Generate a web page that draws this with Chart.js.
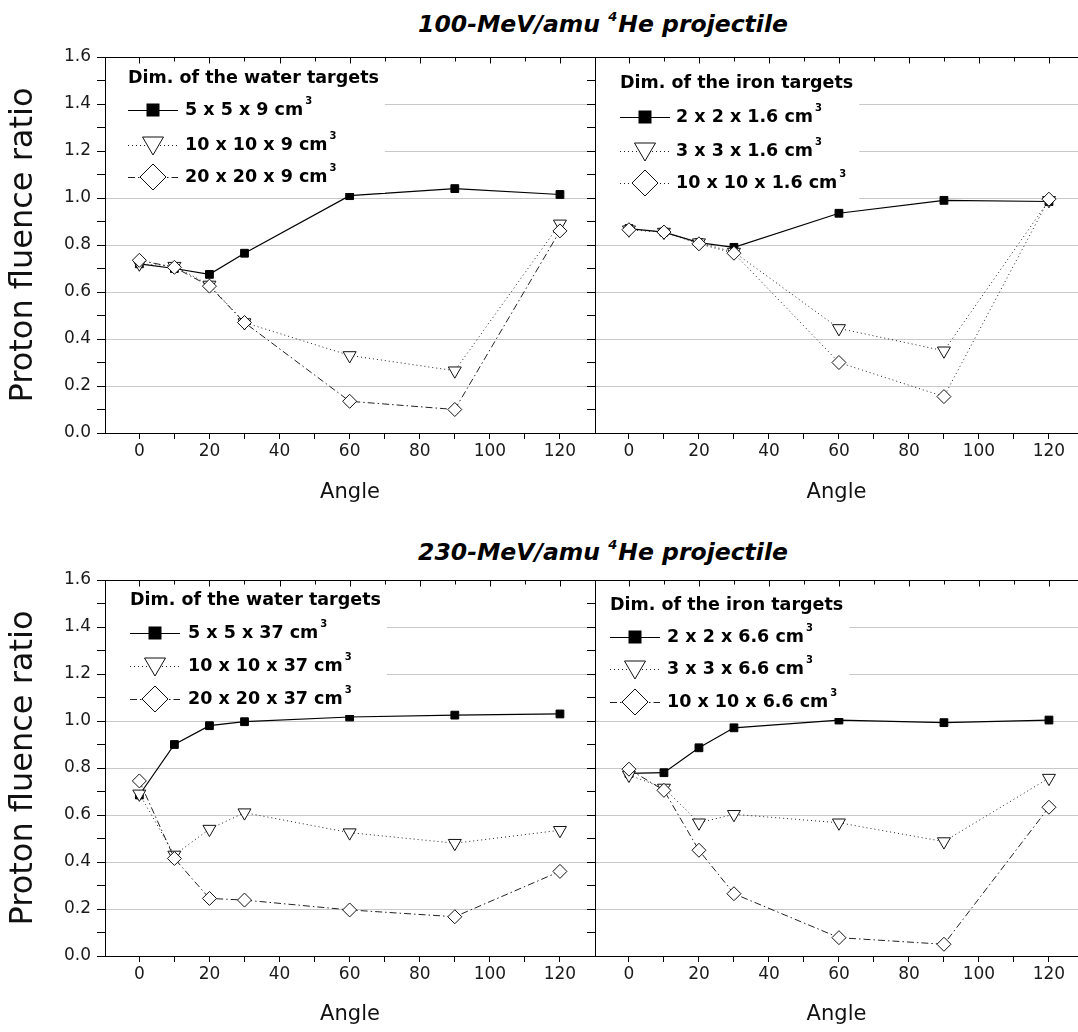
<!DOCTYPE html>
<html>
<head>
<meta charset="utf-8">
<title>Proton fluence ratio vs angle</title>
<script src="https://cdn.jsdelivr.net/npm/chart.js@4.4.1/dist/chart.umd.min.js"></script>
<style>
  body { margin: 0; background: #fff; }
  #wrap { position: relative; width: 1078px; height: 1032px; overflow: hidden; font-family: 'DejaVu Sans', sans-serif; }
  .row-title { position: absolute; left: 0; width: 1206px; text-align: center; font-weight: bold; font-style: italic;
               font-size: 23.5px; line-height: 28px; color: #000; white-space: nowrap; }
  .row-title .sup { font-size: 13px; position: relative; top: -11px; margin-right: 1px; }
  canvas { position: absolute; }
</style>
</head>
<body>
<div id="wrap">
  <div class="row-title" style="top:10px">100-MeV/amu <span class="sup">4</span>He projectile</div>
  <div class="row-title" style="top:538px">230-MeV/amu <span class="sup">4</span>He projectile</div>
  <canvas id="c1" width="596" height="470" style="left:0;top:40px;width:596px;height:470px"></canvas>
  <canvas id="c2" width="491" height="470" style="left:587px;top:40px;width:491px;height:470px"></canvas>
  <canvas id="c3" width="596" height="469" style="left:0;top:563px;width:596px;height:469px"></canvas>
  <canvas id="c4" width="491" height="469" style="left:587px;top:563px;width:491px;height:469px"></canvas>
</div>
<script>
const FONT = "'DejaVu Sans', sans-serif";

const ANGLES = [0, 10, 20, 30, 60, 90, 120];
const X_TICKS = [0, 10, 20, 30, 40, 50, 60, 70, 80, 90, 100, 110, 120];
const Y_TICKS = [0, 0.1, 0.2, 0.3, 0.4, 0.5, 0.6, 0.7, 0.8, 0.9, 1.0, 1.1, 1.2, 1.3, 1.4, 1.5, 1.6];

// 100 MeV/amu, water targets
const W100_5x5   = [0.72, 0.70, 0.675, 0.765, 1.01, 1.04, 1.015];
const W100_10x10 = [0.72, 0.71, 0.63, 0.47, 0.33, 0.265, 0.89];
const W100_20x20 = [0.735, 0.705, 0.625, 0.47, 0.135, 0.10, 0.86];
const W100_LABELS = ['5 x 5 x 9 cm', '10 x 10 x 9 cm', '20 x 20 x 9 cm'];

// 100 MeV/amu, iron targets
const FE100_2x2   = [0.87, 0.855, 0.81, 0.79, 0.935, 0.99, 0.985];
const FE100_3x3   = [0.865, 0.855, 0.81, 0.77, 0.445, 0.35, 0.99];
const FE100_10x10 = [0.865, 0.855, 0.805, 0.765, 0.30, 0.155, 0.995];
const FE100_LABELS = ['2 x 2 x 1.6 cm', '3 x 3 x 1.6 cm', '10 x 10 x 1.6 cm'];

// 230 MeV/amu, water targets
const W230_5x5   = [0.685, 0.90, 0.98, 0.997, 1.017, 1.025, 1.03];
const W230_10x10 = [0.69, 0.43, 0.54, 0.61, 0.525, 0.48, 0.535];
const W230_20x20 = [0.745, 0.415, 0.245, 0.238, 0.196, 0.167, 0.36];
const W230_LABELS = ['5 x 5 x 37 cm', '10 x 10 x 37 cm', '20 x 20 x 37 cm'];

// 230 MeV/amu, iron targets
const FE230_2x2   = [0.777, 0.78, 0.886, 0.971, 1.004, 0.993, 1.004];
const FE230_3x3   = [0.77, 0.715, 0.567, 0.603, 0.567, 0.487, 0.757];
const FE230_10x10 = [0.795, 0.705, 0.45, 0.265, 0.078, 0.05, 0.633];
const FE230_LABELS = ['2 x 2 x 6.6 cm', '3 x 3 x 6.6 cm', '10 x 10 x 6.6 cm'];

const DOT = [1, 3];
const DASHDOT = [7, 3, 1.5, 3];

function series(vals, kind, dash) {
    const pts = ANGLES.map((a, i) => ({ x: a, y: vals[i] }));
    const base = { data: pts, tension: 0, borderDash: dash, fill: false };
    if (kind === 'square') {
        return Object.assign(base, { borderColor: '#000', borderWidth: 1.2, pointStyle: 'rect', pointRadius: 5.5,
            pointBackgroundColor: '#000', pointBorderColor: '#000', pointBorderWidth: 1, order: 3 });
    }
    if (kind === 'tri') {
        return Object.assign(base, { borderColor: '#222', borderWidth: 1, pointStyle: 'triangle', pointRotation: 180,
            pointRadius: 7.5, pointBackgroundColor: '#fff', pointBorderColor: '#111', pointBorderWidth: 1, order: 2 });
    }
    return Object.assign(base, { borderColor: '#222', borderWidth: 1, pointStyle: 'rectRot', pointRadius: 7,
        pointBackgroundColor: '#fff', pointBorderColor: '#111', pointBorderWidth: 1, order: 1 });
}

// top border with inward ticks
const topFrame = {
    id: 'topFrame',
    afterDraw(chart) {
        const { ctx, chartArea: a, scales: { x } } = chart;
        ctx.save();
        ctx.strokeStyle = '#000';
        ctx.lineWidth = 1;
        ctx.beginPath();
        const y = Math.round(a.top) + 0.5;
        ctx.moveTo(a.left, y);
        ctx.lineTo(a.right, y);
        X_TICKS.forEach(v => {
            const px = Math.round(x.getPixelForValue(v)) + 0.5;
            ctx.moveTo(px, y);
            ctx.lineTo(px, y + (v % 20 === 0 ? 6 : 4));
        });
        ctx.stroke();
        ctx.restore();
    }
};

function drawMarker(ctx, kind, x, y) {
    ctx.save();
    ctx.setLineDash([]);
    ctx.lineWidth = 1;
    ctx.strokeStyle = '#111';
    if (kind === 'square') {
        ctx.fillStyle = '#000';
        ctx.fillRect(x - 6.5, y - 6.5, 13, 13);
    } else if (kind === 'tri') {
        ctx.fillStyle = '#fff';
        ctx.beginPath();
        ctx.moveTo(x - 10.5, y - 8);
        ctx.lineTo(x + 10.5, y - 8);
        ctx.lineTo(x, y + 10);
        ctx.closePath();
        ctx.fill(); ctx.stroke();
    } else {
        ctx.fillStyle = '#fff';
        ctx.beginPath();
        ctx.moveTo(x - 13, y);
        ctx.lineTo(x, y - 13);
        ctx.lineTo(x + 13, y);
        ctx.lineTo(x, y + 13);
        ctx.closePath();
        ctx.fill(); ctx.stroke();
    }
    ctx.restore();
}

// legend box drawn inside the plot, with its own white background
function legendPlugin(lg) {
    return {
        id: 'dimLegend',
        afterDatasetsDraw(chart) {
            const { ctx, chartArea: a } = chart;
            const L = a.left, T = a.top;
            const big = 'bold 17.5px ' + FONT;
            ctx.save();
            ctx.font = big;
            let right = L + lg.titleX + ctx.measureText(lg.title).width;
            lg.entries.forEach(e => {
                right = Math.max(right, L + lg.textX + ctx.measureText(e.label).width + 12);
            });
            const last = T + lg.rowY[lg.rowY.length - 1];
            ctx.fillStyle = '#fff';
            ctx.fillRect(L + 1, T + 1, right + 5 - L, last + 15 - T);

            ctx.fillStyle = '#000';
            ctx.textBaseline = 'middle';
            ctx.textAlign = 'left';
            ctx.fillText(lg.title, L + lg.titleX, T + lg.titleY);

            lg.entries.forEach((e, i) => {
                const y = T + lg.rowY[i];
                ctx.save();
                ctx.strokeStyle = e.kind === 'square' ? '#000' : '#222';
                ctx.lineWidth = e.kind === 'square' ? 1.2 : 1;
                ctx.setLineDash(e.dash);
                ctx.beginPath();
                ctx.moveTo(L + lg.lineX0, y + 0.5);
                ctx.lineTo(L + lg.lineX1, y + 0.5);
                ctx.stroke();
                ctx.restore();
                drawMarker(ctx, e.kind, L + (lg.lineX0 + lg.lineX1) / 2, y);

                ctx.font = big;
                ctx.fillStyle = '#000';
                ctx.fillText(e.label, L + lg.textX, y);
                const w = ctx.measureText(e.label).width;
                ctx.font = 'bold 10px ' + FONT;
                ctx.fillText('3', L + lg.textX + w + 2, y - 9);
            });
            ctx.restore();
        }
    };
}

function makePanel(id, p) {
    const kinds = ['square', 'tri', 'dia'];
    return new Chart(document.getElementById(id), {
        type: 'line',
        data: {
            datasets: p.values.map((v, i) => series(v, kinds[i], p.dashes[i]))
        },
        options: {
            responsive: false,
            animation: false,
            events: [],
            devicePixelRatio: 1,
            layout: { autoPadding: false, padding: { top: 17, left: 0, right: p.padRight, bottom: 0 } },
            plugins: { legend: { display: false }, tooltip: { enabled: false } },
            scales: {
                x: {
                    type: 'linear', min: p.xMin, max: p.xMax,
                    afterBuildTicks: s => { s.ticks = X_TICKS.map(v => ({ value: v })); },
                    afterFit: s => { s.height = p.xAxisH; },
                    ticks: {
                        autoSkip: false, maxRotation: 0, padding: 2, color: '#1a1a1a',
                        font: { family: FONT, size: 17 },
                        callback: v => (v % 20 === 0 ? String(v) : '')
                    },
                    grid: { drawOnChartArea: false, drawTicks: true, tickLength: 6, tickColor: '#000', tickWidth: 1 },
                    border: { display: true, color: '#000', width: 1 },
                    title: { display: true, text: 'Angle', color: '#111', font: { family: FONT, size: 21 },
                             padding: { top: 0, bottom: 5 } }
                },
                y: {
                    min: 0, max: 1.6,
                    afterBuildTicks: s => { s.ticks = Y_TICKS.map(v => ({ value: v })); },
                    afterFit: s => { s.width = p.yAxisW; },
                    ticks: {
                        display: p.showY, padding: 6, color: '#1a1a1a',
                        font: { family: FONT, size: 17 },
                        callback: v => (Math.round(v * 10) % 2 === 0 ? v.toFixed(1) : '')
                    },
                    grid: {
                        drawOnChartArea: true, tickLength: 8, tickColor: '#000', tickWidth: 1, lineWidth: 1,
                        color: c => {
                            const k = Math.round(c.tick.value * 10);
                            return (k % 2 === 0 && k > 0 && k < 16) ? '#c8c8c8' : 'rgba(0,0,0,0)';
                        }
                    },
                    border: { display: true, color: '#000', width: 1 },
                    title: { display: p.showY, text: 'Proton fluence ratio', color: '#111',
                             font: { family: FONT, size: 32 }, padding: { top: 4, bottom: 0 } }
                }
            }
        },
        plugins: [topFrame, legendPlugin(p.legend)]
    });
}

function entries(labels, dashes) {
    const kinds = ['square', 'tri', 'dia'];
    return labels.map((l, i) => ({ label: l, kind: kinds[i], dash: dashes[i] }));
}

const D_LEFT = [[], DOT, DASHDOT];
const D_TOPRIGHT = [[], DOT, DOT];

makePanel('c1', {
    values: [W100_5x5, W100_10x10, W100_20x20], dashes: D_LEFT,
    xMin: -9.8, xMax: 130, yAxisW: 105, xAxisH: 77, padRight: 1, showY: true,
    legend: { title: 'Dim. of the water targets', titleX: 23, titleY: 21, rowY: [53, 88, 120],
              lineX0: 23, lineX1: 73, textX: 80, entries: entries(W100_LABELS, D_LEFT) }
});
makePanel('c2', {
    values: [FE100_2x2, FE100_3x3, FE100_10x10], dashes: D_TOPRIGHT,
    xMin: -9.7, xMax: 128.3, yAxisW: 8, xAxisH: 77, padRight: 0, showY: false,
    legend: { title: 'Dim. of the iron targets', titleX: 25, titleY: 26, rowY: [60, 94, 126],
              lineX0: 25, lineX1: 75, textX: 81, entries: entries(FE100_LABELS, D_TOPRIGHT) }
});
makePanel('c3', {
    values: [W230_5x5, W230_10x10, W230_20x20], dashes: D_LEFT,
    xMin: -9.8, xMax: 130, yAxisW: 105, xAxisH: 76, padRight: 1, showY: true,
    legend: { title: 'Dim. of the water targets', titleX: 25, titleY: 20, rowY: [53, 86, 119],
              lineX0: 25, lineX1: 75, textX: 83, entries: entries(W230_LABELS, D_LEFT) }
});
makePanel('c4', {
    values: [FE230_2x2, FE230_3x3, FE230_10x10], dashes: D_LEFT,
    xMin: -9.7, xMax: 128.3, yAxisW: 8, xAxisH: 76, padRight: 0, showY: false,
    legend: { title: 'Dim. of the iron targets', titleX: 15, titleY: 25, rowY: [57, 89, 122],
              lineX0: 15, lineX1: 65, textX: 72, entries: entries(FE230_LABELS, D_LEFT) }
});
</script>
</body>
</html>
